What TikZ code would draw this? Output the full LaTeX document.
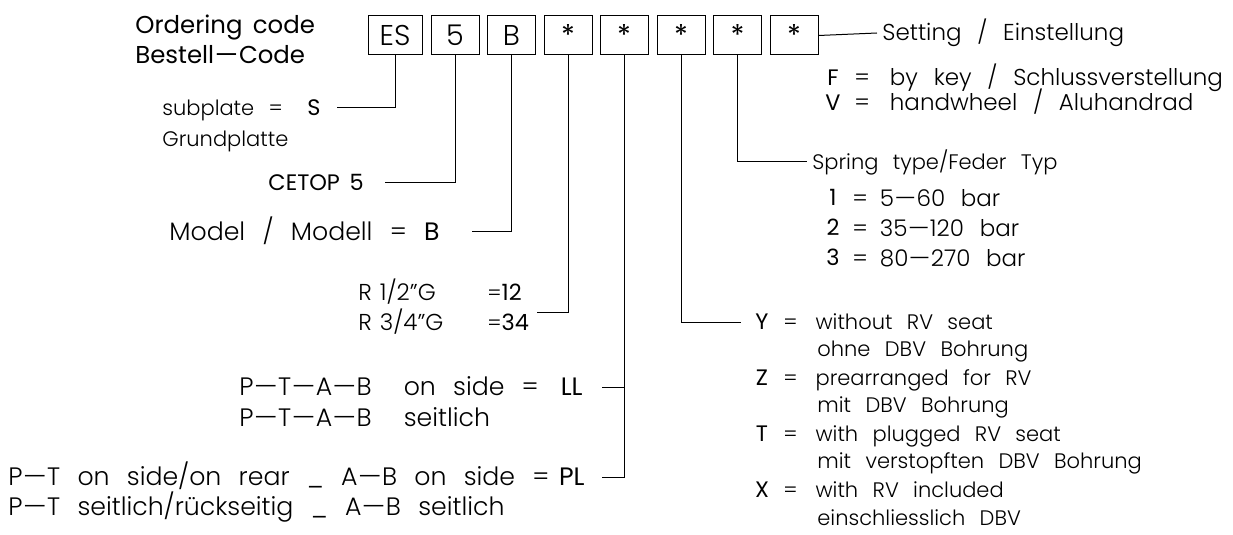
\documentclass[tikz,border=0pt]{standalone}
\usepackage{fontspec}
\setmainfont{Poppins Light}[WordSpace=2.5]
\newfontfamily\codefont{Poppins}[WordSpace=1.6]
\newcommand{\hy}{\scalebox{1.5}[1]{–}}
\usetikzlibrary{positioning}
\begin{document}
\begin{tikzpicture}[x=0.5pt, y=-0.5pt,
  txt/.style={inner sep=0pt, text height=7.3pt, text depth=0pt, font=\fontsize{10.5}{12}\selectfont},
  txtmid/.style={txt, text height=8pt, font=\fontsize{11.5}{13}\selectfont},
  txtbig/.style={txt, text height=8.8pt, font=\fontsize{12.6}{14}\selectfont},
  code/.style={inner sep=0pt, text height=7.8pt, text depth=0pt, font=\fontsize{11.2}{12}\codefont},
  codebig/.style={code, text height=8.8pt, font=\fontsize{12.6}{14}\codefont},
  title/.style={inner sep=0pt, text height=8.5pt, text depth=0pt, font=\fontsize{12.2}{13}\codefont},
  codebox/.style={draw, line width=0.5pt, minimum width=24pt, minimum height=19.5pt, inner sep=0pt,
    text height=10pt, text depth=0pt, font=\fontsize{14.3}{15}\selectfont},
  starbox/.style={codebox, font=\fontsize{14.3}{15}\codefont},
  lead/.style={line width=0.5pt}]
\useasboundingbox (0,0) rectangle (1233,535);

% タイトル
\node[title, anchor=west] (ordering) at (135,25) {Ordering code};
\node[title, anchor=west] (bestell)  at (135,55) {Bestell\hy Code};

% 枠(座標で配置)
\node[codebox, minimum width=27pt] (es) at (395,35.5)   {ES};
\node[codebox] (cetopbox)  at (455,35.5)   {5};
\node[codebox] (modelbox)  at (511.5,35.5) {B};
\node[starbox] (portbox)   at (568,35.5)   {*};
\node[starbox] (sidebox)   at (624,35.5)   {*};
\node[starbox] (seatbox)   at (681,35.5)   {*};
\node[starbox] (springbox) at (737.5,35.5) {*};
\node[starbox] (setbox)    at (794,35.5)   {*};

% 左側の注記
\node[txt, anchor=west]  (subplate) at (162,108) {subplate =};
\node[code, anchor=east] (s)        at (321,108) {S};
\node[txt, anchor=west]  (grund)    at (162,139) {Grundplatte};
\node[code, anchor=east] (cetop)    at (364,183) {CETOP 5};
\node[txtbig, anchor=west] (model)  at (169,232) {Model / Modell =};
\node[codebig, anchor=east] (b)     at (440,232) {B};
\node[txt, anchor=west, font=\fontsize{11.5}{12}\selectfont] (rhalf)  at (358,293) {R\hspace{4pt}1/2”G};
\node[code, anchor=west] (c12)      at (487,293) {{\fontsize{10.5}{12}\selectfont\rmfamily=}12};
\node[txt, anchor=west, font=\fontsize{11.5}{12}\selectfont] (rthree) at (358,323) {R\hspace{4pt}3/4”G};
\node[code, anchor=west] (c34)      at (487,323) {{\fontsize{10.5}{12}\selectfont\rmfamily=}34};
\coordinate (portend) at (537,312);
\node[txtbig, anchor=west]  (ptab)     at (239,387) {P\hy T\hy A\hy B\hspace{16pt}on side =};
\node[codebig, anchor=east] (ll)       at (583,387) {LL};
\node[txtbig, anchor=west]  (ptabde)   at (239,418) {P\hy T\hy A\hy B\hspace{16pt}seitlich};
\node[txtbig, anchor=west]  (ptrear)   at (8,477)   {P\hy T on side/on rear \_ A\hy B on side =};
\node[codebig, anchor=east] (pl)       at (585,477) {PL};
\node[txtbig, anchor=west]  (ptrearde) at (8,507)   {P\hy T seitlich/rückseitig \_ A\hy B seitlich};

% 右側の注記
\node[txtmid, anchor=west] (setting)  at (882,33)  {Setting / Einstellung};
\node[code]                (f)        at (833,78)  {F};
\node[txtmid, anchor=west] (fkey)     at (854,78)  {=\hspace{10pt}by key / Schlussverstellung};
\node[code]                (v)        at (833,103) {V};
\node[txtmid, anchor=west] (vwheel)   at (854,103) {=\hspace{10pt}handwheel / Aluhandrad};

\node[txt, anchor=west]    (spring)   at (812,162) {Spring type/Feder Typ};
\node[code]                (one)      at (833,198) {1};
\node[txtmid, anchor=west] (onebar)   at (852,198) {=\hspace{6pt}5\hy 60 bar};
\node[code]                (two)      at (833,228) {2};
\node[txtmid, anchor=west] (twobar)   at (852,228) {=\hspace{6pt}35\hy 120 bar};
\node[code]                (three)    at (833,258) {3};
\node[txtmid, anchor=west] (threebar) at (852,258) {=\hspace{6pt}80\hy 270 bar};

\node[code]              (y)        at (762,322) {Y};
\node[txt, anchor=west]  (ytext)    at (783,322) {=\hspace{9pt}without RV seat};
\node[txt, anchor=west]  (ytextde)  at (817,349) {ohne DBV Bohrung};
\node[code]              (z)        at (762,378) {Z};
\node[txt, anchor=west]  (ztext)    at (783,378) {=\hspace{9pt}prearranged for RV};
\node[txt, anchor=west]  (ztextde)  at (817,405) {mit DBV Bohrung};
\node[code]              (t)        at (762,434) {T};
\node[txt, anchor=west]  (ttext)    at (783,434) {=\hspace{9pt}with plugged RV seat};
\node[txt, anchor=west]  (ttextde)  at (817,461) {mit verstopften DBV Bohrung};
\node[code]              (x)        at (762,490) {X};
\node[txt, anchor=west]  (xtext)    at (783,490) {=\hspace{9pt}with RV included};
\node[txt, anchor=west]  (xtextde)  at (817,518) {einschliesslich DBV};

% 引出線
\draw[lead] (es.south) |- ([xshift=8pt]s.east);
\draw[lead] (cetopbox.south) |- ([xshift=10.5pt]cetop.east);
\draw[lead] (modelbox.south) |- ([xshift=16pt]b.east);
\draw[lead] (portbox.south) |- (portend);
\draw[lead] (sidebox.south) |- ([xshift=8.5pt]pl.east);
\draw[lead] ([xshift=9.5pt]ll.east) -- (ll.east -| sidebox.south);
\draw[lead] (seatbox.south) |- ([xshift=-7pt]y.west);
\draw[lead] (springbox.south) |- ([xshift=-2.5pt]spring.west);
\draw[lead] (setbox.east) -- ([xshift=-2.5pt]setting.west);
\end{tikzpicture}
\end{document}
